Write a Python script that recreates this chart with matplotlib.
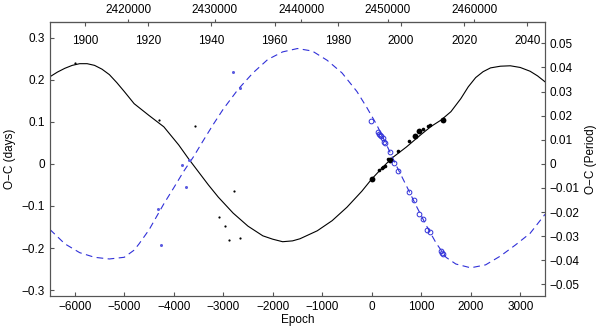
import numpy as np
import matplotlib
matplotlib.use("Agg")
import matplotlib.pyplot as plt
from matplotlib.ticker import FormatStrFormatter

plt.rcParams['font.family'] = ['Liberation Sans', 'DejaVu Sans']

# ephemeris used for the top axes
P = 5.724
T0 = 2448159.0

# fitted curves (epoch, O-C days)
fit_black_E = [-6500, -6350, -6200, -6050, -5900, -5750, -5600, -5450, -5300, -5150,
               -5000, -4800, -4500, -4200, -3900, -3700, -3500, -3300, -3100, -2800,
               -2500, -2200, -2000, -1800, -1600, -1450, -1100, -800, -500, -200,
               0, 200, 400, 700, 1000, 1200, 1400, 1600, 1800, 1950,
               2100, 2250, 2400, 2600, 2800, 3000, 3200, 3350, 3500]
fit_black_oc = [0.207, 0.218, 0.227, 0.234, 0.238, 0.238, 0.234, 0.225, 0.212, 0.193,
                0.172, 0.143, 0.115, 0.088, 0.045, 0.012, -0.019, -0.050, -0.079, -0.117,
                -0.148, -0.171, -0.179, -0.185, -0.183, -0.178, -0.159, -0.135, -0.103, -0.065,
                -0.036, -0.011, 0.013, 0.040, 0.070, 0.089, 0.104, 0.124, 0.155, 0.183,
                0.205, 0.219, 0.228, 0.232, 0.233, 0.229, 0.220, 0.209, 0.195]

fit_blue_E = [-6500, -6200, -5900, -5600, -5300, -5000, -4800, -4700, -4500, -4200,
              -4000, -3800, -3600, -3400, -3200, -3000, -2700, -2400, -2100, -1800,
              -1500, -1200, -900, -600, -300, -100, 100, 300, 500, 700,
              900, 1100, 1300, 1500, 1700, 2000, 2300, 2600, 2900, 3200, 3500]
fit_blue_oc = [-0.156, -0.190, -0.211, -0.222, -0.226, -0.222, -0.205, -0.190, -0.157, -0.095,
               -0.057, -0.018, 0.017, 0.056, 0.094, 0.130, 0.177, 0.216, 0.248, 0.266,
               0.274, 0.268, 0.246, 0.216, 0.172, 0.134, 0.093, 0.045, -0.005, -0.052,
               -0.100, -0.146, -0.188, -0.222, -0.238, -0.247, -0.240, -0.219, -0.193, -0.165, -0.120]

# observed minima, black (primary)
old_black_E = [-5997, -4294, -3564, -2773, -3077, -2955, -2874, -2671]
old_black_oc = [0.239, 0.105, 0.089, -0.065, -0.127, -0.148, -0.182, -0.177]
new_black_E = [154, 203, 235, 270, 324, 540, 743, 1034, 1128, 1169]
new_black_oc = [-0.0135, -0.0095, -0.007, -0.0057, 0.012, 0.031, 0.054, 0.083, 0.091, 0.093]
big_black_E = [0, 371, 865, 960, 1432]
big_black_oc = [-0.036, 0.008, 0.066, 0.077, 0.105]

# observed minima, blue (secondary)
old_blue_E = [-2807, -2657, -3834, -3699, -3753, -4314, -4260]
old_blue_oc = [0.218, 0.180, -0.003, 0.008, -0.056, -0.108, -0.193]
new_blue_E = [-17, 124, 150, 170, 195, 223, 250, 275, 378, 459, 527, 750,
              858, 945, 1040, 1108, 1183, 1405, 1420, 1432]
new_blue_oc = [0.101, 0.076, 0.072, 0.069, 0.066, 0.062, 0.051, 0.049, 0.027, 0.002, -0.016, -0.067,
               -0.087, -0.118, -0.132, -0.158, -0.162, -0.206, -0.211, -0.214]

blue = '#3030d8'
spine_c = '#555555'

fig = plt.figure(figsize=(6, 3.31), dpi=100)
ax = fig.add_axes([0.0833, 0.1057, 0.825, 0.8278])

ax.plot(fit_black_E, fit_black_oc, color='black', lw=0.8)
ax.plot(fit_blue_E, fit_blue_oc, color=blue, lw=0.8, ls=(0, (6, 4)))

ax.plot(old_black_E, old_black_oc, 'o', color='black', ms=1.6, mew=0)
ax.plot(new_black_E, new_black_oc, 'o', color='black', ms=2.6, mew=0)
ax.plot(big_black_E, big_black_oc, 'o', color='black', ms=4.2, mew=0)
ax.plot(old_blue_E, old_blue_oc, 'o', color='#5a5ae0', ms=2.2, mew=0)
ax.plot(new_blue_E, new_blue_oc, 'o', mfc='none', mec=blue, ms=3.4, mew=0.7)

ax.set_xlim(-6500, 3500)
ax.set_ylim(-0.314, 0.337)
ax.set_xticks(np.arange(-6000, 3001, 1000))
ax.set_yticks([-0.3, -0.2, -0.1, 0, 0.1, 0.2, 0.3])
ax.set_yticklabels(['\u22120.3', '\u22120.2', '\u22120.1', '0', '0.1', '0.2', '0.3'])
ax.set_xticklabels([('\u2212' + str(-v)) if v < 0 else str(v) for v in range(-6000, 3001, 1000)])
ax.tick_params(direction='in', length=3, labelsize=8.5, color=spine_c, top=False, right=False)
ax.set_xlabel('Epoch', fontsize=8.5, labelpad=1)
ax.set_ylabel('O\u2212C (days)', fontsize=8.5, labelpad=4)

# right axis, in units of the period
ax2 = ax.twinx()
ax2.set_ylim(-0.314 / P, 0.337 / P)
rt = [-0.05, -0.04, -0.03, -0.02, -0.01, 0, 0.01, 0.02, 0.03, 0.04, 0.05]
ax2.set_yticks(rt)
ax2.set_yticklabels([('\u2212%.2f' % -v) if v < 0 else ('0' if v == 0 else '%.2f' % v) for v in rt])
ax2.tick_params(direction='in', length=3, labelsize=8.5, color=spine_c)
ax2.set_ylabel('O\u2212C (Period)', fontsize=8.5, labelpad=4)

# top: Julian date (outside) and calendar year (inside)
jd = ax.secondary_xaxis('top', functions=(lambda e: T0 + P * e, lambda j: (j - T0) / P))
jd.set_xticks([2420000, 2430000, 2440000, 2450000, 2460000])
jd.xaxis.set_major_formatter(FormatStrFormatter('%d'))
jd.tick_params(direction='out', length=2, labelsize=8.5, color=spine_c, pad=2)

yr = ax.secondary_xaxis('top', functions=(lambda e: 2000 + (T0 + P * e - 2451545) / 365.25,
                                          lambda y: (2451545 + (y - 2000) * 365.25 - T0) / P))
yr.set_xticks(np.arange(1900, 2041, 20))
yr.xaxis.set_major_formatter(FormatStrFormatter('%d'))
yr.tick_params(direction='in', length=3, labelsize=8.5, color=spine_c, pad=-18)
yr.spines['top'].set_visible(False)

for a in (ax, ax2):
    for s in a.spines.values():
        s.set_color(spine_c)
        s.set_linewidth(0.8)
jd.spines['top'].set_color(spine_c)
jd.spines['top'].set_linewidth(0.8)

fig.savefig('out.png', dpi=100)
